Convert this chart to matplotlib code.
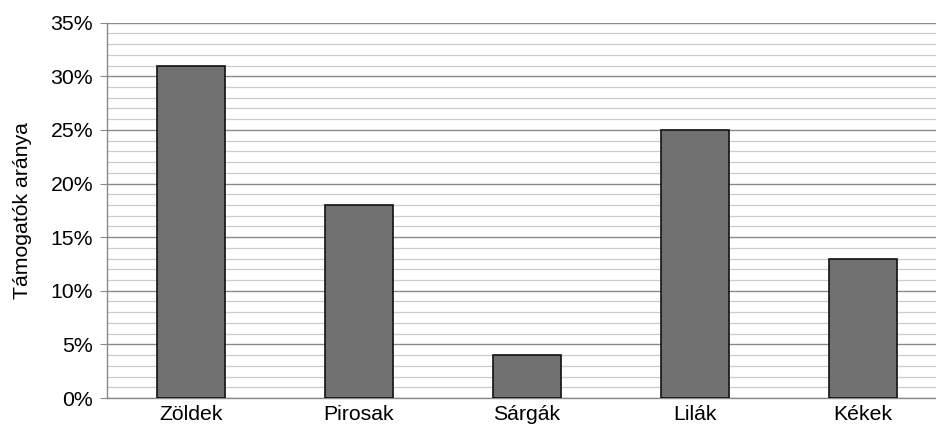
import matplotlib
matplotlib.use("Agg")
import matplotlib.pyplot as plt
from matplotlib.ticker import MultipleLocator, FuncFormatter

categories = ["Zöldek", "Pirosak", "Sárgák", "Lilák", "Kékek"]
values = [31, 18, 4, 25, 13]
y_label = "Támogatók aránya"

plt.rcParams['font.family'] = ['Liberation Sans', 'DejaVu Sans']

W, H = 936, 434
fig = plt.figure(figsize=(W / 100, H / 100), dpi=100)
left_px, right_px, top_px, bot_px = 107, 936, 22.7, 398
ax = fig.add_axes([left_px / W, 1 - bot_px / H, (right_px - left_px) / W, (bot_px - top_px) / H])

slot_px = 168
x = list(range(len(categories)))
ax.bar(x, values, width=68 / slot_px, color="#717171", edgecolor="#111111", linewidth=1.2, zorder=3)

ax.set_xlim(-0.5, -0.5 + (right_px - left_px) / slot_px)
ax.set_ylim(0, 35)
ax.yaxis.set_major_locator(MultipleLocator(5))
ax.yaxis.set_minor_locator(MultipleLocator(1))
ax.yaxis.set_major_formatter(FuncFormatter(lambda v, p: f"{v:.0f}%"))
ax.grid(which="major", axis="y", color="#8a8a8a", linewidth=1.0, zorder=0)
ax.grid(which="minor", axis="y", color="#cccccc", linewidth=0.9, zorder=0)
ax.set_xticks(x)
ax.set_xticklabels(categories, fontsize=15.3)
ax.tick_params(axis="x", length=0, pad=5)
ax.tick_params(axis="y", which="major", length=5, color="#8a8a8a", labelsize=15.3, pad=5)
ax.tick_params(axis="y", which="minor", length=0)
for s in ["top", "right"]:
    ax.spines[s].set_visible(False)
for s in ["left", "bottom"]:
    ax.spines[s].set_color("#8a8a8a")
    ax.spines[s].set_linewidth(1.0)
ax.set_ylabel(y_label, fontsize=15.3)
ax.yaxis.set_label_coords((32 - left_px) / (right_px - left_px), 0.5)

fig.savefig("out.png", dpi=100)
